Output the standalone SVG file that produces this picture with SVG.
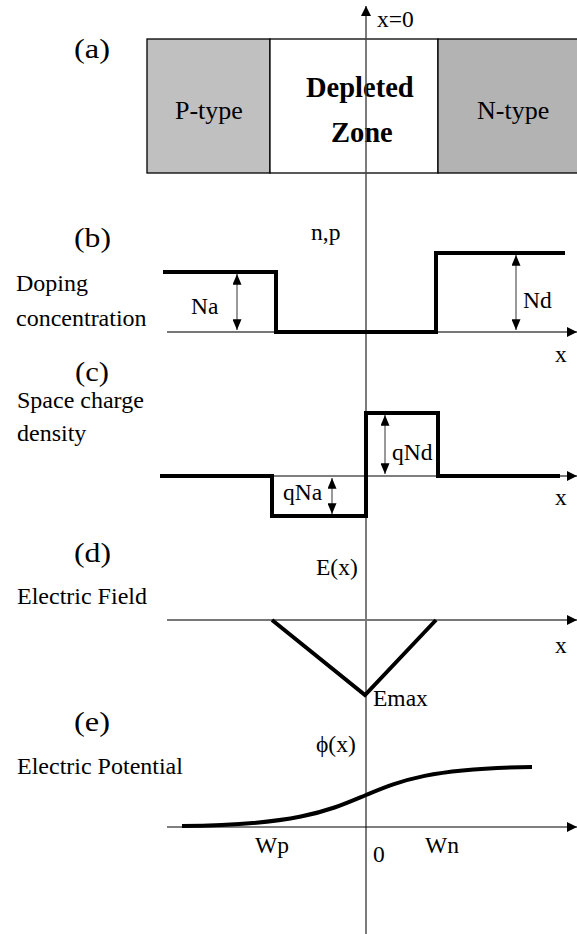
<svg xmlns="http://www.w3.org/2000/svg" width="577" height="934" viewBox="0 0 577 934">
<defs>
<style>
text{font-family:"Liberation Serif","Times New Roman",serif;font-size:23.5px;fill:#000}
.b{font-weight:bold;font-size:28.5px}
.box{font-size:26px}
.lab{font-size:24px}
.sec{font-size:27px}
.ax{stroke:#777;stroke-width:2;fill:none}
.thin{stroke:#000;stroke-width:1;fill:none}
.curve{stroke:#000;stroke-width:4;fill:none;stroke-linejoin:miter}
.dim{stroke:#555;stroke-width:1.2;fill:none}
</style>
<marker id="ah" viewBox="0 0 10 10" refX="10" refY="5" markerWidth="10" markerHeight="10" markerUnits="userSpaceOnUse" orient="auto"><path d="M0,0L10,5L0,10z" fill="#000"/></marker>
<marker id="dh" viewBox="0 0 12 10" refX="12" refY="5" markerWidth="13" markerHeight="9" markerUnits="userSpaceOnUse" orient="auto-start-reverse"><path d="M0,0L12,5L0,10z" fill="#000"/></marker>
</defs>

<g id="junction">
<rect x="147" y="39" width="123" height="134" fill="#c0c0c0" stroke="#000" stroke-width="1.3"/>
<rect x="270" y="39" width="168" height="134" fill="#fff" stroke="#000" stroke-width="1.3"/>
<rect x="438" y="39" width="145" height="134" fill="#b3b3b3" stroke="#000" stroke-width="1.3"/>
<text class="box" x="175" y="119">P-type</text>
<text class="b" x="306" y="97">Depleted</text>
<text class="b" x="331" y="142">Zone</text>
<text class="box" x="477" y="119">N-type</text>
</g>

<g id="connectors">
<line x1="366" y1="934" x2="366" y2="6" stroke="#444" stroke-width="1.4" marker-end="url(#ah)"/>
<line class="ax" x1="167" y1="332" x2="577" y2="332" marker-end="url(#ah)"/>
<line class="thin" x1="272" y1="476" x2="438" y2="476"/>
<line class="ax" x1="438" y1="476" x2="577" y2="476" marker-end="url(#ah)"/>
<line class="ax" x1="167" y1="620" x2="577" y2="620" marker-end="url(#ah)"/>
<line class="thin" x1="167" y1="827" x2="577" y2="827" marker-end="url(#ah)"/>
</g>

<g id="labels">
<text class="sec" x="74" y="58" textLength="36" lengthAdjust="spacingAndGlyphs">(a)</text>
<text x="377" y="27">x=0</text>
<text class="sec" x="74" y="247" textLength="37" lengthAdjust="spacingAndGlyphs">(b)</text>
<text class="lab" x="16" y="291">Doping</text>
<text class="lab" x="16" y="326">concentration</text>
<text class="sec" x="75" y="381" font-size="25" textLength="34" lengthAdjust="spacingAndGlyphs">(c)</text>
<text class="lab" x="17" y="408">Space charge</text>
<text class="lab" x="17" y="441">density</text>
<text class="sec" x="74" y="562" textLength="37" lengthAdjust="spacingAndGlyphs">(d)</text>
<text class="lab" x="17" y="604">Electric Field</text>
<text class="sec" x="74" y="731" textLength="36" lengthAdjust="spacingAndGlyphs">(e)</text>
<text class="lab" x="17" y="774">Electric Potential</text>
</g>

<g id="doping">
<polyline class="curve" points="163,272 276,272 276,332 436,332 436,253 565,253"/>
<line class="dim" x1="237" y1="274" x2="237" y2="330" marker-start="url(#dh)" marker-end="url(#dh)"/>
<line class="dim" x1="516" y1="255" x2="516" y2="330" marker-start="url(#dh)" marker-end="url(#dh)"/>
<text x="191" y="314">Na</text>
<text x="523" y="308">Nd</text>
<text x="311" y="240" font-size="21">n,p</text>
<text x="555" y="362">x</text>
</g>

<g id="charge">
<polyline class="curve" points="160,476 272,476 272,516 366,516 366,413 438,413 438,476 560,476"/>
<line class="dim" x1="385" y1="415" x2="385" y2="474" marker-start="url(#dh)" marker-end="url(#dh)"/>
<line class="dim" x1="332" y1="478" x2="332" y2="514" marker-start="url(#dh)" marker-end="url(#dh)"/>
<text x="283" y="500">qNa</text>
<text x="392" y="460">qNd</text>
<text x="555" y="505">x</text>
</g>

<g id="field">
<polyline class="curve" points="272,620 365,695 436,620"/>
<text x="316" y="575">E(x)</text>
<text x="373" y="706">Emax</text>
<text x="555" y="653">x</text>
</g>

<g id="potential">
<path class="curve" d="M182,826 C300,825 330,810 366,795 C400,781 430,768 532,767"/>
<text x="316" y="752">ϕ(x)</text>
<text x="255" y="853">Wp</text>
<text x="373" y="862">0</text>
<text x="425" y="853">Wn</text>
</g>
</svg>
